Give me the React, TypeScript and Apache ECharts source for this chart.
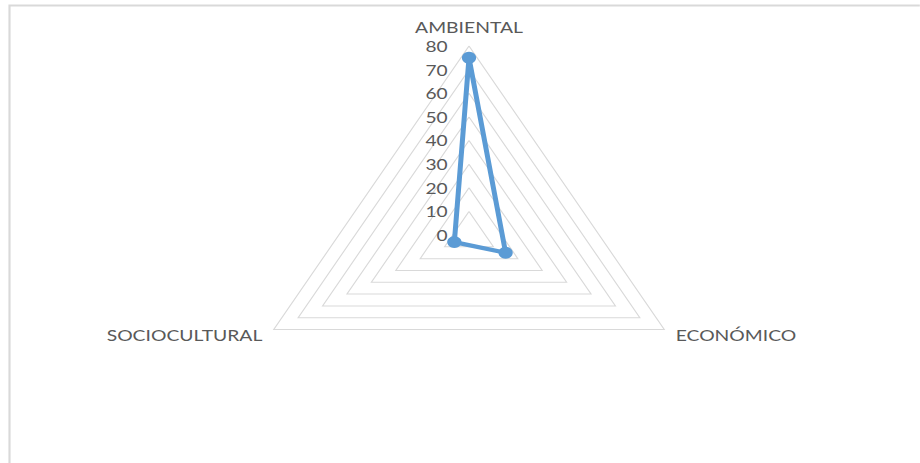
import { useEffect, useRef } from 'react';
import * as echarts from 'echarts';

const categories = ['AMBIENTAL', 'SOCIOCULTURAL', 'ECONÓMICO'];
const values = [75, 6, 15];
const axisMax = 80;
const splitCount = 8;

const SX = 1.193;
const W = 920;
const H = 463;

export default function App() {
  const ref = useRef<HTMLDivElement>(null);
  useEffect(() => {
    const chart = echarts.init(ref.current!, null, { renderer: 'svg' });
    chart.setOption({
      animation: false,
      backgroundColor: '#ffffff',
      graphic: [
        {
          type: 'rect',
          silent: true,
          shape: { x: 9.5 / SX, y: 5.5, width: 2000, height: 2000 },
          style: { fill: 'none', stroke: '#d9d9d9', lineWidth: 1.8 },
        },
      ],
      radar: {
        center: [469 / SX, 235],
        radius: 189,
        startAngle: 90,
        splitNumber: splitCount,
        shape: 'polygon',
        indicator: categories.map((name, i) => ({
          name,
          min: 0,
          max: axisMax,
          ...(i === 0 ? { axisLabel: { show: true } } : {}),
        })),
        axisName: { color: '#595959', fontSize: 16.2, lineHeight: 16, fontFamily: 'Lato' },
        nameGap: 11,
        axisLine: { show: false },
        axisTick: { show: false },
        axisLabel: {
          show: false,
          color: '#595959',
          fontSize: 16,
          lineHeight: 13,
          fontFamily: 'Lato',
          margin: 18,
        },
        splitLine: { lineStyle: { color: '#d9d9d9', width: 1 } },
        splitArea: { show: false },
      },
      series: [
        {
          type: 'radar',
          data: [{ value: values, name: 'Serie' }],
          symbol: 'circle',
          symbolSize: 12,
          lineStyle: { color: '#5b9bd5', width: 4.2 },
          itemStyle: { color: '#5b9bd5' },
        },
      ],
    });
    return () => chart.dispose();
  }, []);
  return (
    <div style={{ position: 'fixed', left: 0, top: 0, width: W, height: H, overflow: 'hidden', background: '#fff' }}>
      <div
        ref={ref}
        style={{ width: W / SX, height: H, transform: `scaleX(${SX})`, transformOrigin: '0 0' }}
      />
    </div>
  );
}
